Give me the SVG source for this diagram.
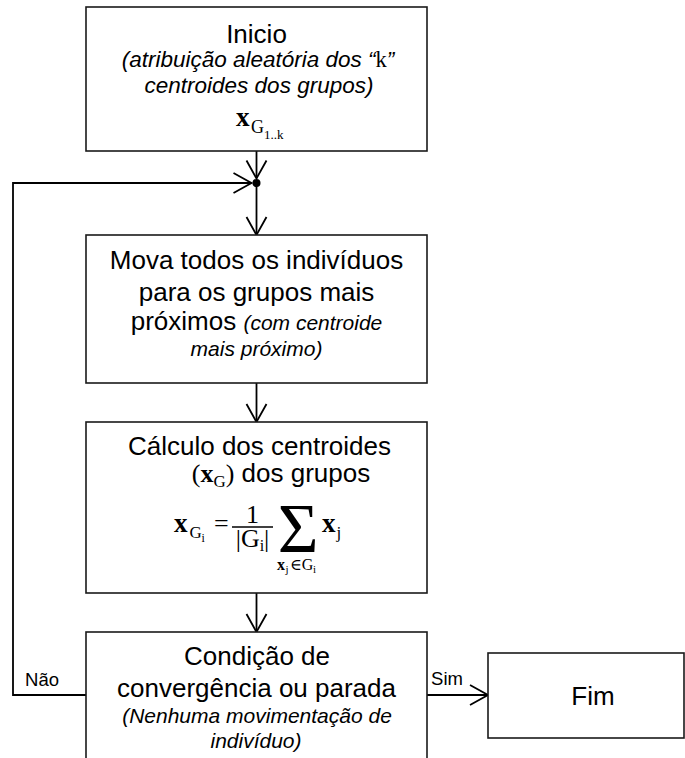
<svg xmlns="http://www.w3.org/2000/svg" width="685" height="758" viewBox="0 0 685 758">
<style>
.t{font-family:"Liberation Sans",Arial,sans-serif;font-size:26px;fill:#000}
.it{font-style:italic;font-size:21px}
.it2{font-style:italic;font-size:22.5px}
.sm{font-size:18.5px}
.m{font-family:"Liberation Serif","DejaVu Serif",serif;font-style:normal}
.b{font-weight:bold}
.box{fill:#fff;stroke:#1a1a1a;stroke-width:1.6}
.ln{fill:none;stroke:#000;stroke-width:1.8}
</style>
<defs>
<marker id="ah" markerUnits="userSpaceOnUse" markerWidth="24" markerHeight="24" refX="20" refY="12" orient="auto" viewBox="0 0 24 24">
<path d="M2,2 L20,12 L2,22" fill="none" stroke="#000" stroke-width="1.8"/>
</marker>
</defs>
<rect width="685" height="758" fill="#fff"/>
<g id="connectors">
<line class="ln" x1="256.5" y1="151" x2="256.5" y2="178.5" marker-end="url(#ah)"/>
<circle cx="256.5" cy="183" r="4" fill="#000"/>
<line class="ln" x1="256.5" y1="183" x2="256.5" y2="235" marker-end="url(#ah)"/>
<line class="ln" x1="256.5" y1="383" x2="256.5" y2="422" marker-end="url(#ah)"/>
<line class="ln" x1="256.5" y1="593" x2="256.5" y2="632" marker-end="url(#ah)"/>
<polyline class="ln" points="86,695 13,695 13,183 251.5,183" marker-end="url(#ah)"/>
<line class="ln" x1="427" y1="695" x2="488" y2="695" marker-end="url(#ah)"/>
<text class="t sm" x="42" y="686" text-anchor="middle">Não</text>
<text class="t sm" x="447" y="685" text-anchor="middle">Sim</text>
</g>
<g id="inicio">
<rect class="box" x="86" y="7" width="341" height="144"/>
<text class="t" x="256.5" y="43" text-anchor="middle">Inicio</text>
<text class="t it2" x="258" y="67" text-anchor="middle">(atribuição aleatória dos “<tspan class="m">k</tspan>”</text>
<text class="t it2" x="259" y="93" text-anchor="middle">centroides dos grupos)</text>
<text class="m b" x="236" y="126" font-size="27">x</text>
<text class="m" x="251" y="133" font-size="18">G</text>
<text class="m" x="264" y="139" font-size="13">1..k</text>
</g>
<g id="mova">
<rect class="box" x="86" y="235" width="341" height="148"/>
<text class="t" x="256.5" y="269" text-anchor="middle">Mova todos os indivíduos</text>
<text class="t" x="256.5" y="301" text-anchor="middle">para os grupos mais</text>
<text class="t" x="256.5" y="330" text-anchor="middle">próximos <tspan class="it">(com centroide</tspan></text>
<text class="t it" x="256.5" y="356" text-anchor="middle">mais próximo)</text>
</g>
<g id="calculo">
<rect class="box" x="86" y="422" width="341" height="171"/>
<text class="t" x="259.5" y="455" text-anchor="middle" font-size="27.5">Cálculo dos centroides</text>
<text class="t" x="281" y="482" text-anchor="middle" font-size="27.5"><tspan class="m">(</tspan><tspan class="m b">x</tspan><tspan class="m" font-size="17" dy="5">G</tspan><tspan class="m" dy="-5">)</tspan> dos grupos</text>
<text class="m b" x="174" y="532" font-size="27">x</text>
<text class="m" x="189.5" y="538" font-size="17">G</text>
<text class="m" x="201.5" y="542" font-size="12">i</text>
<text class="m" x="214" y="532" font-size="26">=</text>
<text class="m" x="252.5" y="523" font-size="26" text-anchor="middle">1</text>
<line x1="232" y1="527" x2="273" y2="527" stroke="#000" stroke-width="1.4"/>
<text class="m" x="252.5" y="547" font-size="26" text-anchor="middle">|G<tspan font-size="16" dy="4">i</tspan><tspan dy="-4">|</tspan></text>
<text class="m" x="298" y="552" font-size="70" text-anchor="middle">Σ</text>
<text class="m b" x="322" y="532" font-size="27">x</text>
<text class="m" x="336.5" y="538" font-size="17">j</text>
<text class="m b" x="277" y="570" font-size="16">x</text>
<text class="m" x="285.5" y="573" font-size="11">j</text>
<text class="m" x="290" y="570" font-size="16">∈G</text>
<text class="m" x="313" y="573" font-size="11">i</text>
</g>
<g id="condicao">
<rect class="box" x="86" y="632" width="341" height="132"/>
<text class="t" x="257" y="665" text-anchor="middle">Condição de</text>
<text class="t" x="256.5" y="697" text-anchor="middle">convergência ou parada</text>
<text class="t it" x="257" y="723" text-anchor="middle">(Nenhuma movimentação de</text>
<text class="t it" x="256" y="748" text-anchor="middle">indivíduo)</text>
</g>
<g id="fim">
<rect class="box" x="488" y="653" width="196" height="85"/>
<text class="t" x="593" y="705" text-anchor="middle">Fim</text>
</g>
</svg>
